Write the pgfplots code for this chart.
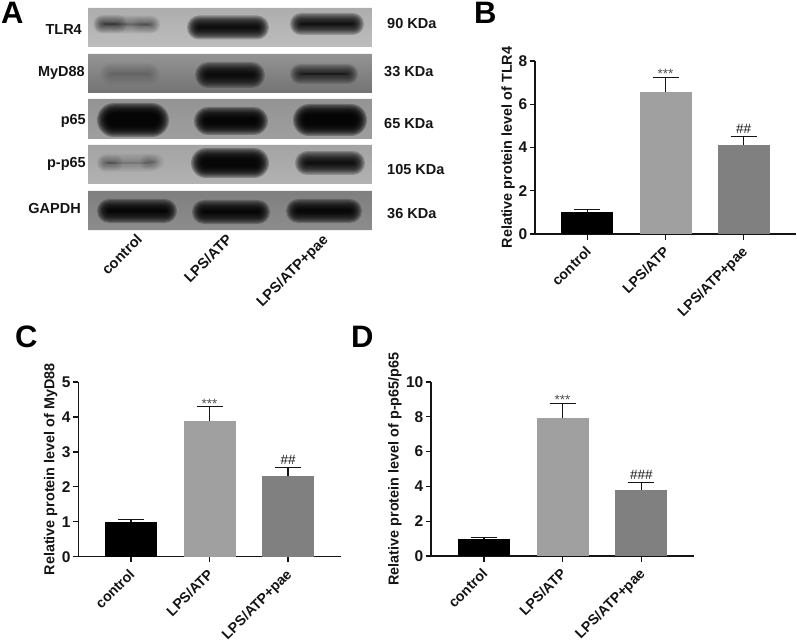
\documentclass[border=0pt]{standalone}
\usepackage{pgfplots}
\pgfplotsset{compat=1.18}
\usepackage{fontspec}
\setmainfont{Liberation Sans}
\newcommand{\fs}[1]{\fontsize{#1}{#1}\selectfont}
\definecolor{barB}{HTML}{A0A0A0}
\definecolor{barC}{HTML}{808080}
\definecolor{ink}{HTML}{141414}
\pgfplotsset{
  panel/.style={
    scale only axis,
    anchor=south west,
    axis x line*=bottom, axis y line*=left,
    axis line style={-, line width=1.3pt, ink},
    xmin=-0.672, xmax=2.67, ymin=0,
    xtick={0,1,2}, xticklabels={control,LPS/ATP,LPS/ATP+pae},
    tick style={line width=1.3pt, ink},
    major tick length=5.5pt,
    tick align=outside,
    xticklabel style={rotate=45, anchor=north east, font=\bfseries\fs{14.2}, text=ink, inner sep=1pt, yshift=-1pt, xshift=-5pt},
    yticklabel style={font=\bfseries\fs{15.5}, text=ink, inner sep=1pt, xshift=-1pt},
    /pgf/number format/assume math mode=true,
    ylabel style={font=\bfseries\fs{14.4}, text=ink, anchor=center},
    clip=false,
    error bars/error bar style={line width=1.3pt, ink},
    error bars/error mark options={rotate=90, mark size=13pt, line width=1.3pt, ink},
  },
  onebar/.style={ybar, bar width=52pt, bar shift=0pt, draw=none, fill=#1,
    error bars/.cd, y dir=plus, y explicit},
}
\newcommand{\band}[5]{% cx cy hw hh alpha
  \foreach \k in {0,...,9}{%
    \pgfmathsetmacro\wk{max(#3+6-\k*1.25,1)}%
    \pgfmathsetmacro\hk{max(#4+6-\k*1.25,1)}%
    \fill[black, fill opacity=#5, rounded corners=\hk pt]
      ({#1-\wk},{#2-\hk}) rectangle ({#1+\wk},{#2+\hk});
  }%
}
\newcommand{\blot}[4]{% y0 y1 topcol botcol
  \shade[top color=#3, bottom color=#4] (88,#1) rectangle (372,#2);
}
\begin{document}
\begin{tikzpicture}[x=1pt,y=1pt]
\useasboundingbox (0,0) rectangle (797,641);
\begin{scope}[yshift=641pt, y=-1pt]
  \begin{scope}
  \clip (88,8) rectangle (372,47) (88,54) rectangle (372,93) (88,99) rectangle (372,139) (88,145) rectangle (372,184) (88,191) rectangle (372,230);
  \blot{8}{47}{black!32}{black!26}
  \blot{54}{93}{black!42}{black!55}
  \blot{99}{139}{black!42}{black!38}
  \blot{145}{184}{black!36}{black!30}
  \blot{191}{230}{black!50}{black!45}
  % TLR4
  \band{127}{24.5}{27}{3}{0.05}
  \band{110}{24}{11}{3}{0.05}
  \band{146}{25}{8}{2}{0.02}
  \band{228}{27.5}{35}{6}{0.22}
  \band{327}{24}{31}{5}{0.20}
  % MyD88
  \band{130}{74}{24}{5}{0.025}
  \band{230}{75}{29}{7}{0.20}
  \band{324}{74}{28}{4}{0.13}
  % p65
  \band{133}{120}{30}{11}{0.27}
  \band{231}{121}{31}{8}{0.26}
  \band{330}{120}{31}{10}{0.27}
  % p-p65
  \band{128}{163}{25}{3}{0.03}
  \band{110}{163}{7}{2}{0.03}
  \band{152}{162}{6}{2}{0.03}
  \band{230}{163}{33}{9}{0.26}
  \band{330}{163}{29}{6}{0.20}
  % GAPDH
  \band{137}{211}{34}{6}{0.24}
  \band{231}{212}{33}{6}{0.24}
  \band{324}{211}{32}{6}{0.23}
  \end{scope}
  % letters
  \node[anchor=base west, inner sep=0pt, text=black, font=\bfseries\fs{31}] at (1,24) {A};
  \node[anchor=base west, inner sep=0pt, text=black, font=\bfseries\fs{31}] at (474,24) {B};
  \node[anchor=base west, inner sep=0pt, text=black, font=\bfseries\fs{31}] at (15,347) {C};
  \node[anchor=base west, inner sep=0pt, text=black, font=\bfseries\fs{31}] at (351,347) {D};
  % row names
  \foreach \t/\xx/\yy in {TLR4/82/35, MyD88/85/77, p65/86/125, p-p65/86/168, GAPDH/81/213}{
    \node[anchor=base east, inner sep=0pt, text=ink, font=\bfseries\fs{14.5}] at (\xx,\yy) {\t};
  }
  \foreach \t/\xx/\yy in {90 KDa/387/29, 33 KDa/384/77, 65 KDa/384/129, 105 KDa/387/175, 36 KDa/387/219}{
    \node[anchor=base west, inner sep=0pt, text=ink, font=\bfseries\fs{14.5}] at (\xx,\yy) {\t};
  }
  \foreach \t/\xx in {control/143, LPS\slash ATP/233, LPS\slash ATP+pae/329}{
    \node[rotate=45, anchor=north east, inner sep=0pt, text=ink, font=\bfseries\fs{14.6}] at ({\xx-7.5},233) {\t};
  }
\end{scope}

% Panel B
\begin{axis}[panel, at={(535pt,407pt)}, width=261pt, height=173pt, ymax=8, ytick={0,2,4,6,8},
  ylabel={Relative protein level of TLR4}, ylabel style={at={(axis description cs:-0.103,0.5)}}]
  \addplot[onebar=black] coordinates {(0,1.00) +- (0,0.12)};
  \addplot[onebar=barB] coordinates {(1,6.55) +- (0,0.68)};
  \addplot[onebar=barC] coordinates {(2,4.12) +- (0,0.38)};
  \node[anchor=north, inner sep=0pt, text=black!70, font=\fs{13.5}] at (axis cs:1,7.63) {***};
  \node[anchor=south, inner sep=0pt, text=ink, font=\fs{13.5}] at (axis cs:2,4.65) {\#\#};
\end{axis}

% Panel C
\begin{axis}[panel, at={(78.3pt,84.3pt)}, width=262.4pt, height=174.7pt, ymax=5, ytick={0,1,2,3,4,5},
  ylabel={Relative protein level of MyD88}, ylabel style={at={(axis description cs:-0.105,0.5)}}]
  \addplot[onebar=black] coordinates {(0,1.00) +- (0,0.06)};
  \addplot[onebar=barB] coordinates {(1,3.88) +- (0,0.41)};
  \addplot[onebar=barC] coordinates {(2,2.31) +- (0,0.25)};
  \node[anchor=north, inner sep=0pt, text=black!70, font=\fs{13.5}] at (axis cs:1,4.50) {***};
  \node[anchor=south, inner sep=0pt, text=ink, font=\fs{13.5}] at (axis cs:2,2.62) {\#\#};
\end{axis}

% Panel D
\begin{axis}[panel, at={(431pt,85pt)}, width=263pt, height=174pt, ymax=10, ytick={0,2,4,6,8,10},
  ylabel={Relative protein level of p-p65/p65}, ylabel style={at={(axis description cs:-0.137,0.5)}}]
  \addplot[onebar=black] coordinates {(0,0.96) +- (0,0.11)};
  \addplot[onebar=barB] coordinates {(1,7.91) +- (0,0.86)};
  \addplot[onebar=barC] coordinates {(2,3.81) +- (0,0.40)};
  \node[anchor=north, inner sep=0pt, text=black!70, font=\fs{13.5}] at (axis cs:1,9.23) {***};
  \node[anchor=south, inner sep=0pt, text=ink, font=\fs{13.5}] at (axis cs:2,4.41) {\#\#\#};
\end{axis}
\end{tikzpicture}
\end{document}
